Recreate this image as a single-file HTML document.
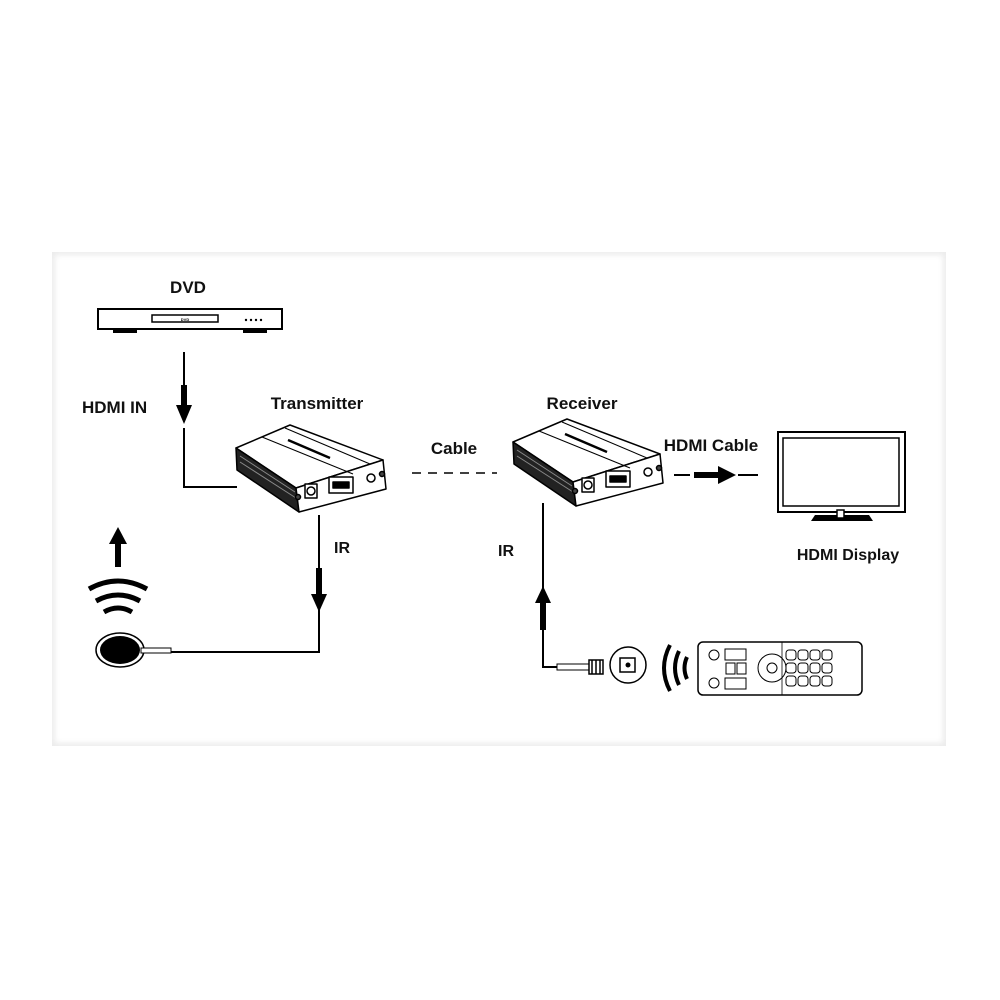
<!DOCTYPE html>
<html><head><style>
body{margin:0;background:#fff;}
.p{position:absolute;left:52px;top:252px;width:894px;height:494px;background:#fff;box-shadow:inset 0 0 6px 3px #ececec;}
</style></head><body>
<div class="p"></div>
<svg width="1000" height="1000" style="position:absolute;left:0;top:0" font-family="Liberation Sans, sans-serif" font-weight="bold">
<g fill="#111" font-size="17">
<text x="188" y="293" text-anchor="middle">DVD</text>
<text x="82" y="413">HDMI IN</text>
<text x="317" y="409" text-anchor="middle">Transmitter</text>
<text x="454" y="454" text-anchor="middle">Cable</text>
<text x="582" y="409" text-anchor="middle">Receiver</text>
<text x="711" y="451" text-anchor="middle">HDMI Cable</text>
<text x="848" y="560" text-anchor="middle" font-size="16">HDMI Display</text>
<text x="334" y="553" font-size="16">IR</text>
<text x="498" y="556" font-size="16">IR</text>
</g>
<!-- DVD -->
<rect x="98" y="309" width="184" height="20" fill="#fff" stroke="#000" stroke-width="2"/>
<rect x="113" y="329" width="24" height="4" fill="#000"/><rect x="243" y="329" width="24" height="4" fill="#000"/>
<rect x="152" y="315" width="66" height="7" fill="#fff" stroke="#000" stroke-width="1.5"/>
<text x="185" y="321" font-size="4" text-anchor="middle">DVD</text>
<g fill="#000"><circle cx="246" cy="320" r="1.2"/><circle cx="251" cy="320" r="1.2"/><circle cx="256" cy="320" r="1.2"/><circle cx="261" cy="320" r="1.2"/></g>
<!-- HDMI IN line -->
<g stroke="#000" stroke-width="2" fill="none">
<path d="M184 352V385M184 428V487H237"/>
<path d="M319 515V652H170"/>
<path d="M543 503V667H590"/>
<path d="M412 473H497" stroke-dasharray="9 7" stroke-width="1.5"/>
<path d="M674 475H690M738 475H758"/>
</g>
<rect x="181" y="385" width="6" height="20" fill="#000"/><path d="M176 405H192L184 424Z" fill="#000"/>
<rect x="316" y="568" width="6" height="28" fill="#000"/><path d="M311 594H327L319 612Z" fill="#000"/>
<rect x="540" y="600" width="6" height="30" fill="#000"/><path d="M535 603H551L543 586Z" fill="#000"/>
<rect x="115" y="541" width="6" height="26" fill="#000"/><path d="M109 544H127L118 527Z" fill="#000"/>
<rect x="694" y="472" width="26" height="6" fill="#000"/><path d="M718 466V484L736 475Z" fill="#000"/>
<!-- wifi left -->
<g stroke="#000" stroke-width="5" fill="none">
<path d="M89 589Q118 573 147 589"/><path d="M96 601Q118 589 140 601"/><path d="M104 612Q118 604 132 612"/>
</g>
<!-- sensor left -->
<ellipse cx="120" cy="650" rx="24" ry="17" fill="#fff" stroke="#000" stroke-width="1.5"/>
<ellipse cx="120" cy="650" rx="20" ry="14" fill="#000"/>
<rect x="141" y="648" width="30" height="5" fill="#fff" stroke="#000" stroke-width="1"/>
<!-- devices -->
<g id="dev" stroke="#000" stroke-width="1.5" stroke-linejoin="round">
<path d="M236 448L290 425L383 460L296 488Z" fill="#fff"/>
<path d="M236 448L296 488L299 512L237 470Z" fill="#222"/>
<path d="M240 456L295 492M240 462L296 498" stroke="#888" stroke-width="1"/>
<path d="M296 488L383 460L386 489L299 512Z" fill="#fff"/>
<path d="M262 437L353 474M285 428L370 464" stroke-width="1"/>
<path d="M288 440L330 458" stroke-width="2.5"/>
<rect x="305" y="484" width="12" height="14" fill="#fff"/><circle cx="311" cy="491" r="4" fill="#fff"/>
<rect x="329" y="477" width="24" height="16" fill="#fff"/><rect x="333" y="482" width="16" height="6" fill="#000"/>
<circle cx="371" cy="478" r="4" fill="#fff"/><circle cx="298" cy="497" r="2.5" fill="#444"/><circle cx="382" cy="474" r="2.5" fill="#444"/>
</g>
<use href="#dev" transform="translate(277,-6)"/>
<!-- receiver sensor -->
<rect x="557" y="664" width="33" height="6" fill="#fff" stroke="#000" stroke-width="1"/>
<rect x="589" y="660" width="14" height="14" fill="#fff" stroke="#000" stroke-width="1.5"/>
<path d="M592 660V674M596 660V674M600 660V674" stroke="#000" stroke-width="1.5"/>
<circle cx="628" cy="665" r="18" fill="#fff" stroke="#000" stroke-width="1.5"/>
<rect x="620" y="658" width="15" height="14" fill="#fff" stroke="#000" stroke-width="1.5"/><circle cx="628" cy="665" r="2.5" fill="#000"/>
<g stroke="#000" stroke-width="4" fill="none">
<path d="M670 645Q658 668 670 691"/><path d="M679 651Q671 668 679 685"/><path d="M687 657Q682 668 687 679"/>
</g>
<!-- remote -->
<rect x="698" y="642" width="164" height="53" rx="5" fill="#fff" stroke="#000" stroke-width="1.5"/>
<g fill="#fff" stroke="#000" stroke-width="1">
<circle cx="714" cy="655" r="5"/><circle cx="714" cy="683" r="5"/>
<rect x="725" y="649" width="21" height="11"/><rect x="725" y="678" width="21" height="11"/>
<rect x="726" y="663" width="9" height="11"/><rect x="737" y="663" width="9" height="11"/>
<circle cx="772" cy="668" r="14"/><circle cx="772" cy="668" r="5"/>
<path d="M782 642V695" stroke-width="0.8"/>
<rect x="786" y="650" width="10" height="10" rx="3"/><rect x="798" y="650" width="10" height="10" rx="3"/><rect x="810" y="650" width="10" height="10" rx="3"/><rect x="822" y="650" width="10" height="10" rx="3"/>
<rect x="786" y="663" width="10" height="10" rx="3"/><rect x="798" y="663" width="10" height="10" rx="3"/><rect x="810" y="663" width="10" height="10" rx="3"/><rect x="822" y="663" width="10" height="10" rx="3"/>
<rect x="786" y="676" width="10" height="10" rx="3"/><rect x="798" y="676" width="10" height="10" rx="3"/><rect x="810" y="676" width="10" height="10" rx="3"/><rect x="822" y="676" width="10" height="10" rx="3"/>
</g>
<!-- TV -->
<rect x="778" y="432" width="127" height="80" fill="#fff" stroke="#000" stroke-width="2"/>
<rect x="783" y="438" width="116" height="68" fill="#fff" stroke="#000" stroke-width="1.5"/>
<path d="M811 521L815 515H869L873 521Z" fill="#000"/>
<rect x="837" y="510" width="7" height="8" fill="#fff" stroke="#000" stroke-width="1.5"/>
</svg>
</body></html>
